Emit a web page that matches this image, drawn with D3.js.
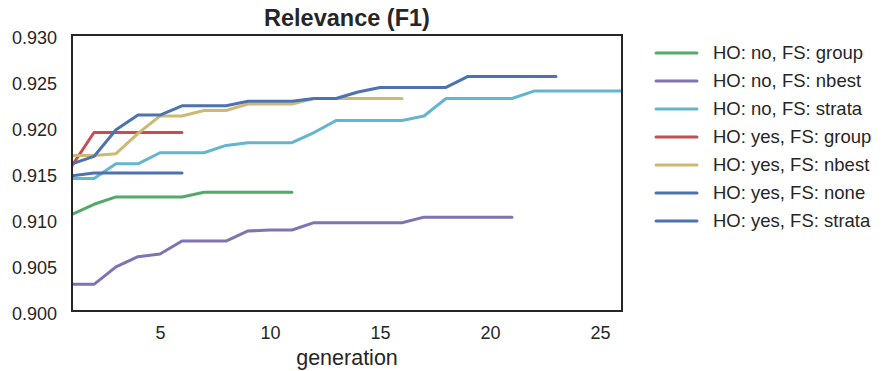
<!DOCTYPE html>
<html lang="en">
<head>
    <meta charset="UTF-8">
    <title>Relevance (F1)</title>
    <script src="https://cdn.jsdelivr.net/npm/d3@7"></script>
    <style>
        html, body {
            margin: 0;
            background: #fff;
        }
        text {
            font-family: Arial, "Liberation Sans", sans-serif;
            fill: #262626;
        }
    </style>
</head>
<body>
<div class="chart"></div>

<script>

    // series names, colours and values (x starts at generation 1)
    var names = ["HO: no, FS: group", "HO: no, FS: nbest", "HO: no, FS: strata",
        "HO: yes, FS: group", "HO: yes, FS: nbest", "HO: yes, FS: none", "HO: yes, FS: strata"];
    var colors = ["#55A868", "#8172B2", "#64B5CD", "#C44E52", "#CCB974", "#4C72B0", "#4C72B0"];

    var noGroup = [0.9105, 0.9116, 0.9124, 0.9124, 0.9124, 0.9124, 0.9129, 0.9129, 0.9129, 0.9129, 0.9129];
    var noNbest = [0.9029, 0.9029, 0.9048, 0.9059, 0.9062, 0.9076, 0.9076, 0.9076, 0.9087, 0.9088, 0.9088,
        0.9096, 0.9096, 0.9096, 0.9096, 0.9096, 0.9102, 0.9102, 0.9102, 0.9102, 0.9102];
    var noStrata = [0.9144, 0.9144, 0.9160, 0.9160, 0.9172, 0.9172, 0.9172, 0.9180, 0.9183, 0.9183, 0.9183,
        0.9194, 0.9207, 0.9207, 0.9207, 0.9207, 0.9212, 0.9231, 0.9231, 0.9231, 0.9231, 0.9239, 0.9239,
        0.9239, 0.9239, 0.9239];
    var yesGroup = [0.9158, 0.9194, 0.9194, 0.9194, 0.9194, 0.9194];
    var yesNbest = [0.9169, 0.9169, 0.9171, 0.9193, 0.9212, 0.9212, 0.9218, 0.9218, 0.9225, 0.9225, 0.9225,
        0.9231, 0.9231, 0.9231, 0.9231, 0.9231];
    var yesNone = [0.9147, 0.9150, 0.9150, 0.9150, 0.9150, 0.9150];
    var yesStrata = [0.9160, 0.9168, 0.9197, 0.9213, 0.9213, 0.9223, 0.9223, 0.9223, 0.9228, 0.9228, 0.9228,
        0.9231, 0.9231, 0.9238, 0.9243, 0.9243, 0.9243, 0.9243, 0.9255, 0.9255, 0.9255, 0.9255, 0.9255];

    var series = [noGroup, noNbest, noStrata, yesGroup, yesNbest, yesNone, yesStrata];

    var xTicks = [5, 10, 15, 20, 25];
    var yTicks = [0.900, 0.905, 0.910, 0.915, 0.920, 0.925, 0.930];

    var width = 883, height = 371;
    var margin = {left: 72, right: 261, top: 35, bottom: 60};
    var plotW = width - margin.left - margin.right;
    var plotH = height - margin.top - margin.bottom;

    var x = d3.scaleLinear().domain([1, 26]).range([0, plotW]);
    var y = d3.scaleLinear().domain([0.900, 0.930]).range([plotH, 0]);

    var svg = d3.select('.chart').append('svg').attr('width', width).attr('height', height);
    var chartGroup = svg.append('g').attr('transform', 'translate(' + margin.left + ',' + margin.top + ')');

    var line = d3.line()
        .x(function (d, i) { return x(i + 1); })
        .y(function (d) { return y(d); });

    chartGroup.append('defs').append('clipPath').attr('id', 'clip')
        .append('rect').attr('width', plotW).attr('height', plotH);

    chartGroup.append('g').attr('clip-path', 'url(#clip)')
        .selectAll('path').data(series).enter().append('path')
        .attr('d', function (d) { return line(d); })
        .attr('fill', 'none')
        .attr('stroke', function (d, i) { return colors[i]; })
        .attr('stroke-width', 3)
        .attr('stroke-linecap', 'round')
        .attr('stroke-linejoin', 'round');

    var xAxis = d3.axisBottom(x).tickValues(xTicks).tickSize(0).tickPadding(15);
    var yAxis = d3.axisLeft(y).tickValues(yTicks).tickFormat(d3.format('.3f')).tickSize(0).tickPadding(15);

    var gx = chartGroup.append('g').attr('transform', 'translate(0,' + plotH + ')').call(xAxis);
    var gy = chartGroup.append('g').call(yAxis);
    [gx, gy].forEach(function (g) {
        g.select('.domain').remove();
        g.selectAll('text').style('font-size', '18px').attr('fill', '#262626')
            .style('font-family', 'Arial, "Liberation Sans", sans-serif');
    });
    gy.selectAll('text').attr('dy', '0.45em');

    // frame
    chartGroup.append('rect')
        .attr('width', plotW).attr('height', plotH)
        .attr('fill', 'none').attr('stroke', '#262626').attr('stroke-width', 2);

    svg.append('text')
        .attr('x', margin.left + plotW / 2).attr('y', 26)
        .attr('text-anchor', 'middle')
        .style('font-size', '23.5px').style('font-weight', 'bold')
        .text('Relevance (F1)');

    svg.append('text')
        .attr('x', margin.left + plotW / 2).attr('y', 365)
        .attr('text-anchor', 'middle')
        .style('font-size', '21.5px')
        .text('generation');

    var legend = svg.append('g').attr('transform', 'translate(656,53)');
    var rows = legend.selectAll('g').data(names).enter().append('g')
        .attr('transform', function (d, i) { return 'translate(0,' + (i * 28) + ')'; });
    rows.append('line')
        .attr('x1', 0).attr('x2', 41)
        .attr('stroke', function (d, i) { return colors[i]; })
        .attr('stroke-width', 3).attr('stroke-linecap', 'round');
    rows.append('text')
        .attr('x', 57).attr('dy', '0.35em')
        .style('font-size', '18.5px')
        .text(function (d) { return d; });

</script>
</body>
</html>
